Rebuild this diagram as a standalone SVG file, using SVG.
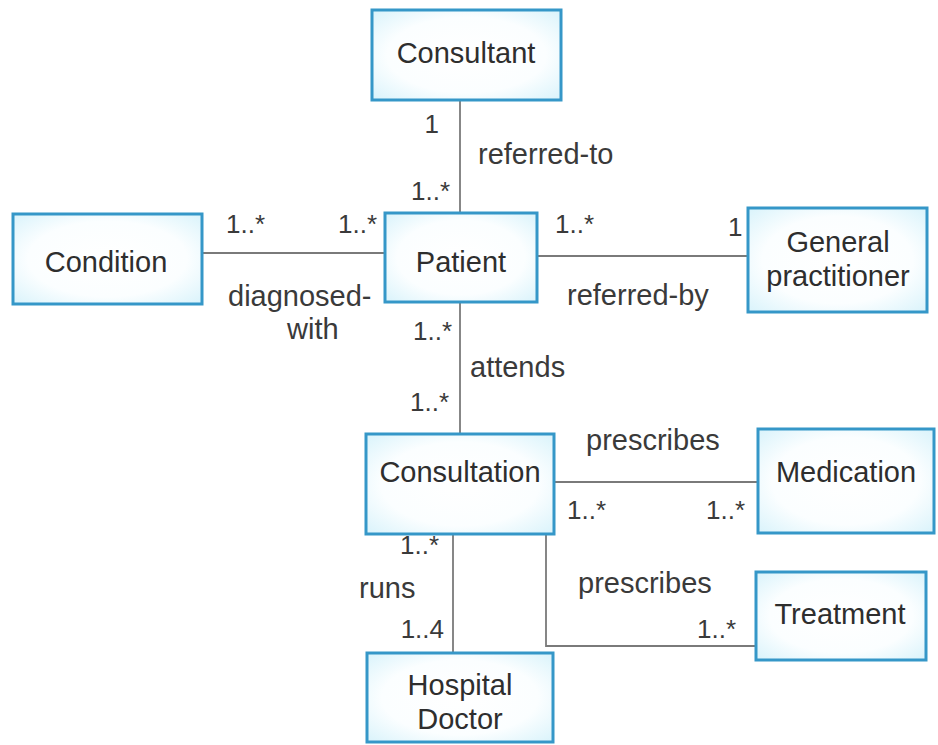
<svg xmlns="http://www.w3.org/2000/svg" width="938" height="745" viewBox="0 0 938 745">
  <style>
    .box { fill: url(#boxFill); stroke: #3597c8; stroke-width: 3; }
    .name { font-family: "Liberation Sans", Arial, sans-serif; font-size: 29px; fill: #2e2e2e; text-anchor: middle; }
    .lbl { font-family: "Liberation Sans", Arial, sans-serif; font-size: 29px; fill: #3a3a3a; }
    .mult { font-family: "Liberation Sans", Arial, sans-serif; font-size: 26px; fill: #3a3a3a; }
    .end { text-anchor: end; }
    .conn line, .conn polyline { stroke: #7a7a7a; stroke-width: 1.8; fill: none; }
  </style>
  <defs>
    <radialGradient id="boxFill" cx="50%" cy="50%" r="70%">
      <stop offset="0" stop-color="#ffffff"/>
      <stop offset="0.6" stop-color="#fbfeff"/>
      <stop offset="1" stop-color="#d9f3fb"/>
    </radialGradient>
  </defs>
  <rect width="938" height="745" fill="#ffffff"/>

  <!-- associations -->
  <g id="connectors" class="conn">
    <line x1="460" y1="100" x2="460" y2="213"/>
    <line x1="202" y1="253" x2="385" y2="253"/>
    <line x1="537" y1="256" x2="748" y2="256"/>
    <line x1="460" y1="302" x2="460" y2="434"/>
    <line x1="554" y1="482" x2="758" y2="482"/>
    <line x1="453" y1="534" x2="453" y2="653"/>
    <polyline points="546,534 546,646 756,646"/>
  </g>

  <!-- role names -->
  <g id="roles" class="lbl">
    <text x="478" y="164">referred-to</text>
    <text x="228" y="306">diagnosed-</text>
    <text x="287" y="339">with</text>
    <text x="567" y="305">referred-by</text>
    <text x="470" y="377">attends</text>
    <text x="586" y="450">prescribes</text>
    <text x="359" y="598">runs</text>
    <text x="578" y="593">prescribes</text>
  </g>

  <!-- multiplicities -->
  <g id="multiplicities" class="mult">
    <text class="end" x="439" y="133">1</text>
    <text class="end" x="450" y="200">1..*</text>
    <text x="226" y="233">1..*</text>
    <text x="338" y="233">1..*</text>
    <text x="555" y="233">1..*</text>
    <text x="728" y="236">1</text>
    <text class="end" x="452" y="340">1..*</text>
    <text class="end" x="449" y="411">1..*</text>
    <text x="567" y="519">1..*</text>
    <text x="706" y="519">1..*</text>
    <text class="end" x="439" y="554">1..*</text>
    <text x="697" y="638">1..*</text>
    <text class="end" x="444" y="638">1..4</text>
  </g>

  <g id="consultant">
    <rect class="box" x="372" y="10" width="189" height="90"/>
    <text class="name" x="466" y="63">Consultant</text>
  </g>
  <g id="condition">
    <rect class="box" x="13" y="214" width="189" height="90"/>
    <text class="name" x="106" y="272">Condition</text>
  </g>
  <g id="patient">
    <rect class="box" x="385" y="213" width="152" height="89"/>
    <text class="name" x="461" y="272">Patient</text>
  </g>
  <g id="general-practitioner">
    <rect class="box" x="748" y="208" width="179" height="104"/>
    <text class="name" x="838" y="252">General</text>
    <text class="name" x="838" y="286">practitioner</text>
  </g>
  <g id="consultation">
    <rect class="box" x="366" y="434" width="188" height="100"/>
    <text class="name" x="460" y="482">Consultation</text>
  </g>
  <g id="medication">
    <rect class="box" x="758" y="429" width="176" height="104"/>
    <text class="name" x="846" y="482">Medication</text>
  </g>
  <g id="treatment">
    <rect class="box" x="756" y="572" width="170" height="88"/>
    <text class="name" x="840" y="624">Treatment</text>
  </g>
  <g id="hospital-doctor">
    <rect class="box" x="367" y="653" width="186" height="89"/>
    <text class="name" x="460" y="695">Hospital</text>
    <text class="name" x="460" y="729">Doctor</text>
  </g>
</svg>
